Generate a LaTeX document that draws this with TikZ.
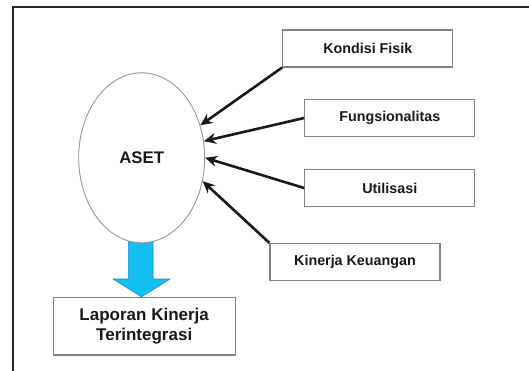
\documentclass[tikz,border=0pt]{standalone}
\usepackage{fontspec}
\setmainfont{Liberation Sans}
\usetikzlibrary{arrows.meta,calc,shapes.geometric}
\definecolor{boxline}{RGB}{130,130,130}
\definecolor{ellline}{RGB}{150,150,150}
\definecolor{txt}{RGB}{25,25,25}
\definecolor{cyanfill}{RGB}{20,190,240}
\definecolor{cyanline}{RGB}{20,140,200}
\tikzset{
  lbox/.style={draw=boxline,line width=1.3pt,fill=white,minimum width=170pt,minimum height=37pt,inner sep=0pt,
    font=\fontsize{14.3}{17}\selectfont\bfseries,text=txt},
  inarrow/.style={line width=2.6pt,draw=black!90,-{Stealth[length=12pt,width=11pt]}},
}
\begin{document}
\begin{tikzpicture}[x=1pt,y=-1pt]
\useasboundingbox (0,0) rectangle (529,371);
\fill[white] (0,0) rectangle (529,371);
% frame
\draw[line width=2.5pt,draw=black!85] (529,7) -- (13,7) -- (13,371);
% nodes
\node[lbox] (kf) at (367.8,48.4) {Kondisi Fisik};
\node[lbox] (fu) at (389.8,118) {Fungsionalitas};
\node[lbox] (ut) at (389.8,188) {Utilisasi};
\node[lbox] (kk) at (355,262) {Kinerja Keuangan};
\node[draw=boxline,line width=1.3pt,minimum width=182pt,minimum height=57.6pt,inner sep=0pt,align=center,
  font=\fontsize{17}{20.5}\selectfont\bfseries,text=txt] (lap) at (144.2,326.3) {Laporan Kinerja\\Terintegrasi};
% blue arrow (drawn before ellipse so its top is hidden)
\coordinate (tip) at (141.5,0 |- lap.north);
\filldraw[fill=cyanfill,draw=cyanline,line width=0.6pt]
  (128.3,230) -- (153,230) -- (153,279) -- (170,279) -- (tip) -- (113,279) -- (128.3,279) -- cycle;
\node[ellipse,draw=ellline,line width=0.9pt,fill=white,minimum width=126pt,minimum height=170pt,inner sep=0pt,
  font=\fontsize{16.8}{20}\selectfont\bfseries,text=txt] (aset) at (141.7,157.8) {ASET};
% connectors
\draw[inarrow] (kf.south west) -- (aset.29.8);
\draw[inarrow] (fu.west) -- (aset.15.4);
\draw[inarrow] (ut.west) -- (aset.-0.6);
\draw[inarrow] (kk.north west) -- (aset.-21.9);
\end{tikzpicture}
\end{document}
